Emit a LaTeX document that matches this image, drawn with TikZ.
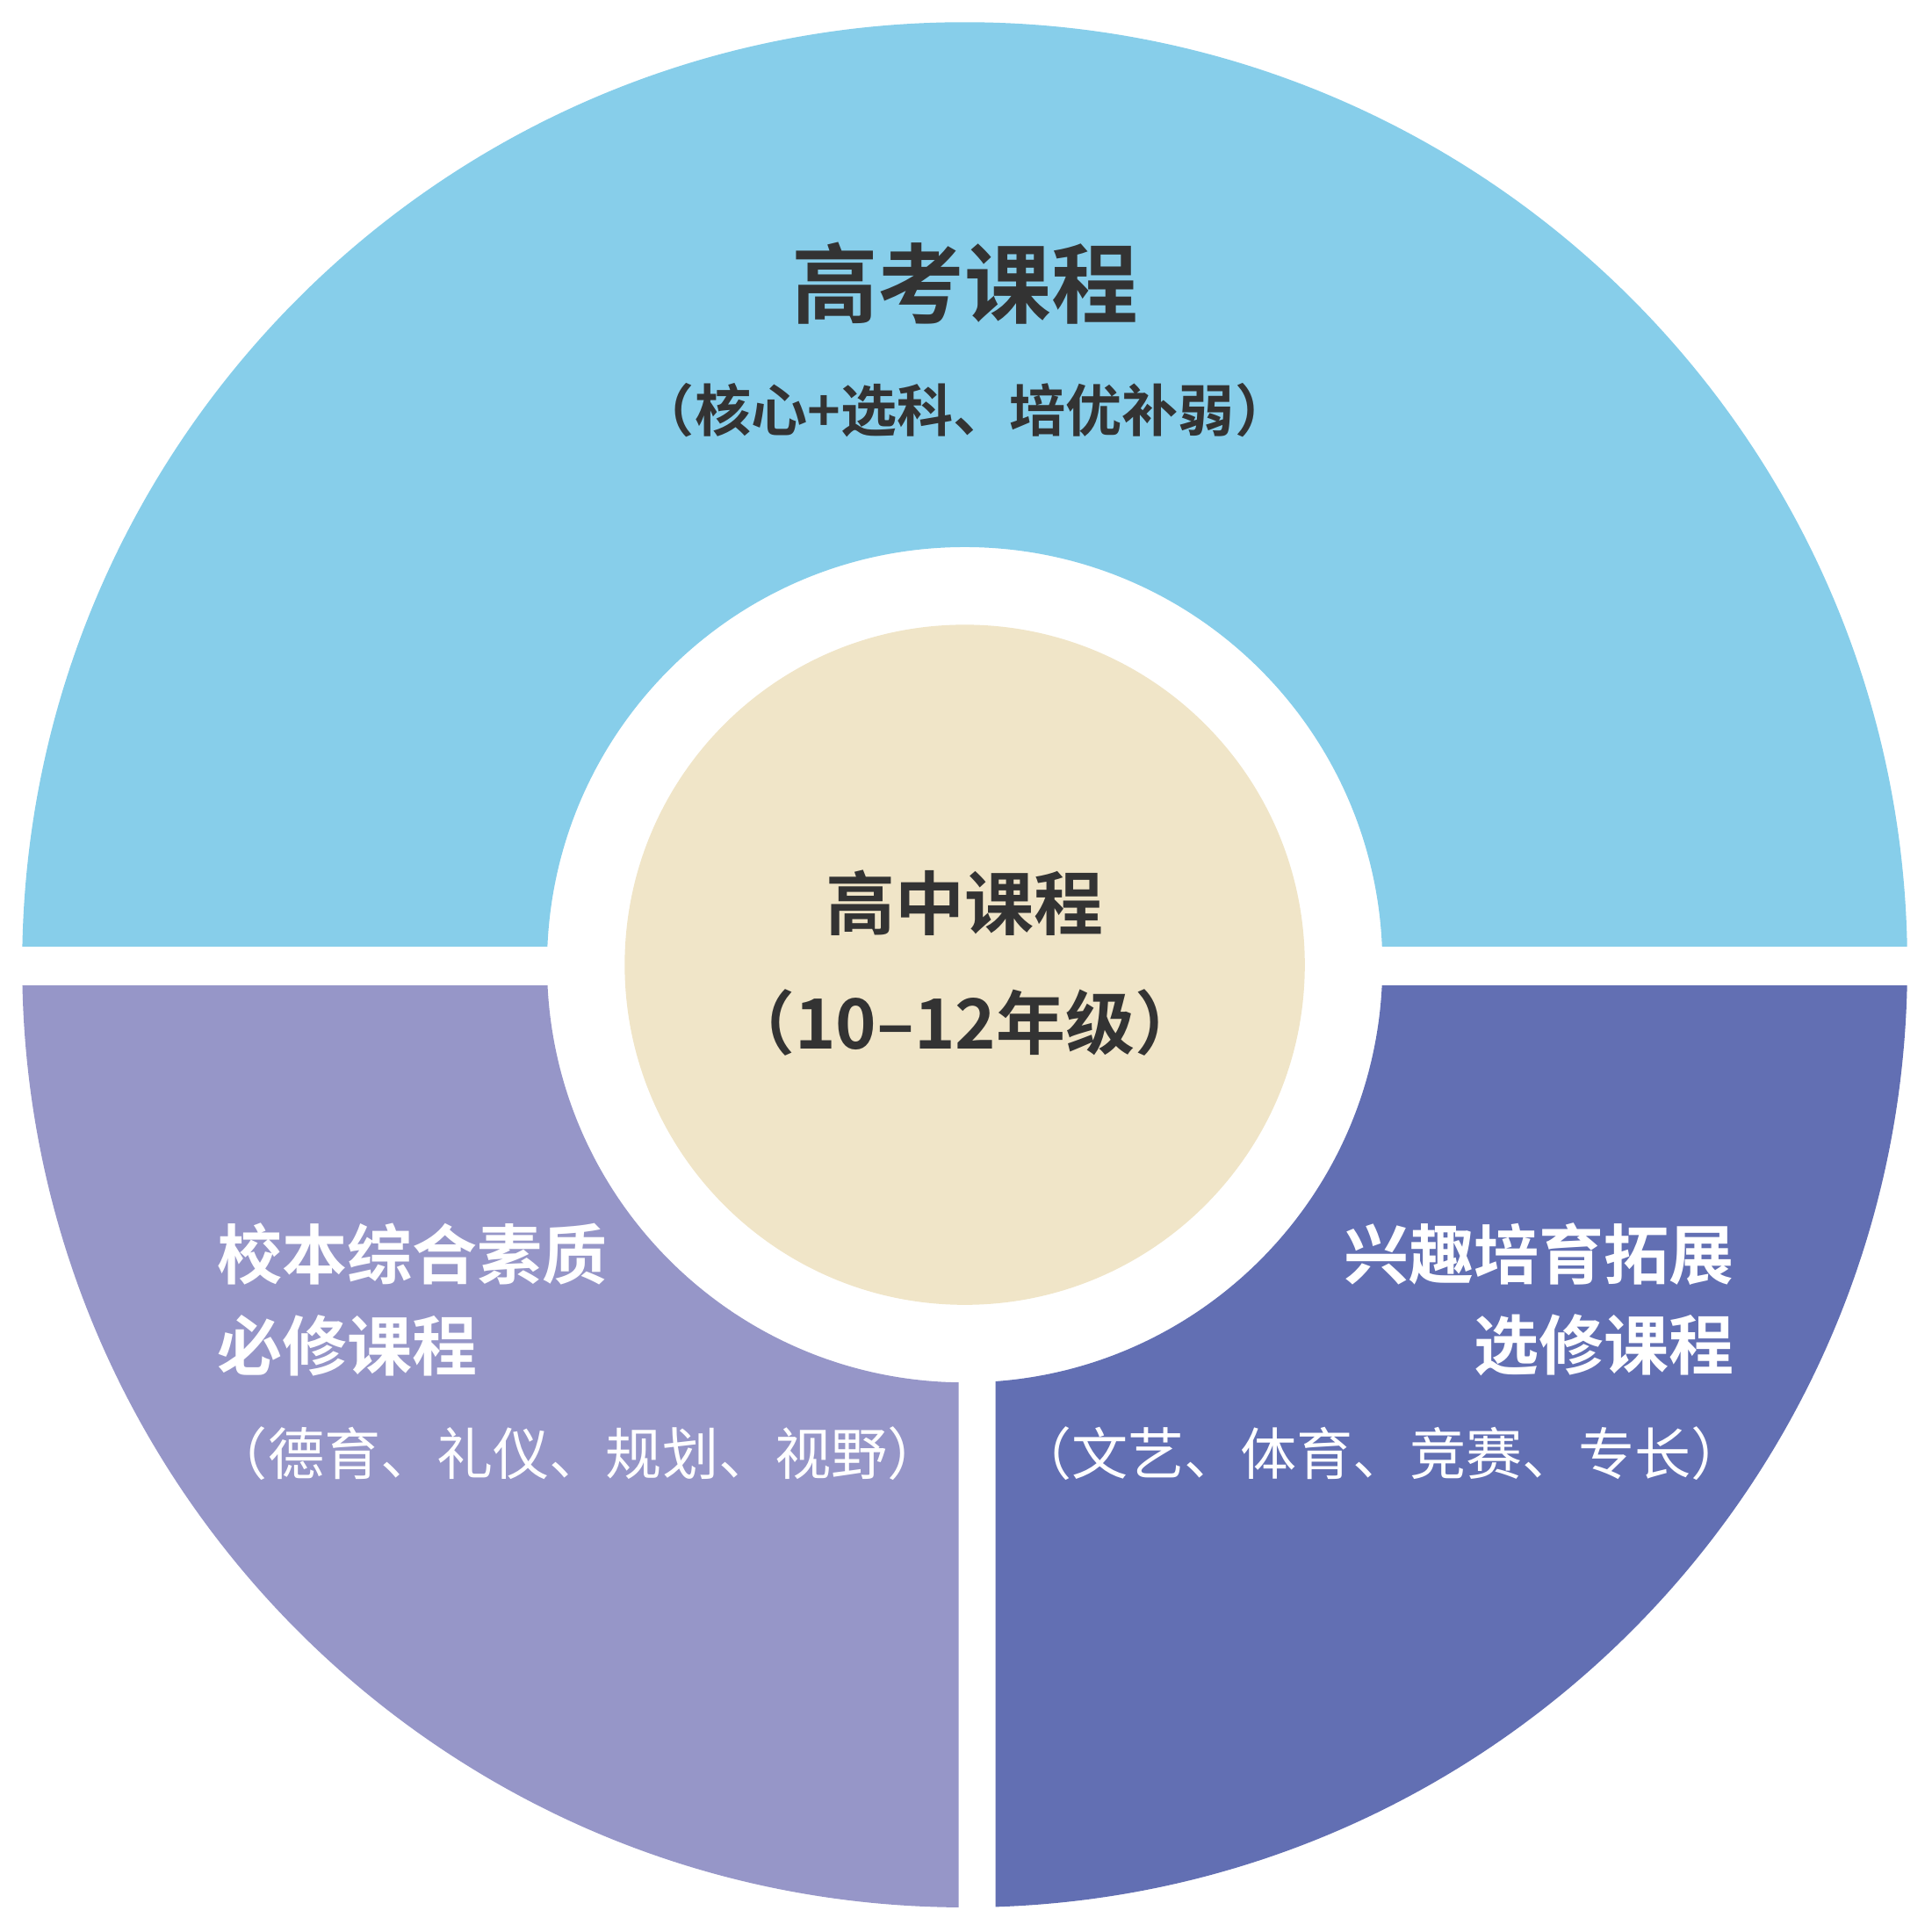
\documentclass[tikz,border=0pt]{standalone}
\usepackage{fontspec}
\newfontfamily\cjk{Noto Sans CJK SC}
\newfontfamily\cjkb{Noto Sans CJK SC Bold}
\definecolor{topblue}{HTML}{87CEEA}
\definecolor{leftlav}{HTML}{9696C8}
\definecolor{rightblue}{HTML}{626FB3}
\definecolor{centerbeige}{HTML}{F0E5C8}
\definecolor{txtgray}{HTML}{333333}
\tikzset{
  ring/.style={even odd rule},
  darktext/.style={text=txtgray, inner sep=0pt},
  whitetext/.style={text=white, inner sep=0pt}
}
\begin{document}
\begin{tikzpicture}[x=0.01cm,y=0.01cm]
\useasboundingbox (-783,-785) rectangle (785,783);
% top part
\begin{scope}
\clip (-800,15) rectangle (800,800);
\fill[topblue,ring] (0,0) circle (765) (0,0) circle (339);
\end{scope}
% lower left
\begin{scope}
\clip (-800,-17) rectangle (-5,-800);
\fill[leftlav,ring] (0,0) circle (765) (0,0) circle (339);
\end{scope}
% lower right
\begin{scope}
\clip (25,-17) rectangle (800,-800);
\fill[rightblue,ring] (0,0) circle (765) (0,0) circle (339);
\end{scope}
% centre
\fill[centerbeige] (0,0) circle (276);
\node[darktext] (gk) at (0,553) {\cjkb\fontsize{20}{24}\selectfont 高考课程};
\node[darktext] (gksub) at (0,450) {\cjkb\fontsize{13}{16}\selectfont （核心+选科、培优补弱）};
\node[darktext] (gz) at (0,50) {\cjkb\fontsize{16}{19}\selectfont 高中课程};
\node[darktext] (gzsub) at (0,-47) {\cjkb\fontsize{16}{19}\selectfont （10–12年级）};
\node[whitetext,anchor=west] (xb1) at (-607,-235) {\cjkb\fontsize{15}{18}\selectfont 校本综合素质};
\node[whitetext,anchor=west] (xb2) at (-607,-309) {\cjkb\fontsize{15}{18}\selectfont 必修课程};
\node[whitetext,anchor=west] (xb3) at (-612,-397) {\cjk\fontsize{13}{16}\selectfont （德育、礼仪、规划、视野）};
\node[whitetext,anchor=east] (xq1) at (625,-235) {\cjkb\fontsize{15}{18}\selectfont 兴趣培育拓展};
\node[whitetext,anchor=east] (xq2) at (625,-309) {\cjkb\fontsize{15}{18}\selectfont 选修课程};
\node[whitetext,anchor=east] (xq3) at (636,-397) {\cjk\fontsize{13}{16}\selectfont （文艺、体育、竞赛、专长）};
\end{tikzpicture}
\end{document}
